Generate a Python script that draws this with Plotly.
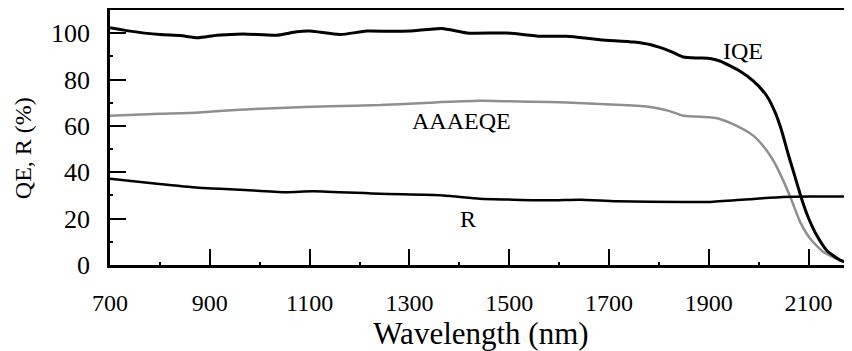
import plotly.graph_objects as go

# IQE (black, thick)
iqe_wl = [700, 733, 800, 840, 876, 914, 967, 1034, 1074, 1101, 1161, 1214, 1260, 1301, 1365,
          1415, 1495, 1562, 1615, 1682, 1750, 1782, 1822, 1849, 1880, 1902, 1922, 1962, 1989,
          2016, 2033, 2046, 2059, 2073, 2086, 2099, 2116, 2136, 2163, 2187]
iqe_val = [102.3, 101.1, 99.4, 99.0, 98.0, 99.1, 99.7, 99.1, 100.6, 100.9, 99.4, 100.9, 100.8, 100.9, 102.0,
           100.1, 100.1, 98.7, 98.7, 97.2, 96.2, 95.1, 92.3, 89.7, 89.3, 89.1, 88.0, 83.7, 79.4,
           73.0, 65.8, 57.9, 47.9, 37.9, 28.6, 20.7, 12.9, 6.4, 2.1, 0.4]

# AAAEQE (grey)
eqe_wl = [700, 800, 878, 960, 1040, 1140, 1241, 1340, 1441, 1500, 1582, 1649, 1715, 1782,
          1820, 1849, 1902, 1922, 1956, 1989, 2016, 2033, 2049, 2066, 2083, 2103, 2129, 2163, 2187]
eqe_val = [64.4, 65.2, 65.8, 67.0, 67.7, 68.5, 69.0, 70.0, 70.8, 70.6, 70.3, 69.8, 69.1, 68.2,
           66.5, 64.4, 63.7, 63.0, 60.0, 55.8, 49.4, 43.6, 36.5, 27.9, 18.6, 11.4, 5.7, 2.1, 0.7]

# R (black)
r_wl = [700, 794, 878, 960, 1051, 1107, 1241, 1367, 1441, 1508, 1582, 1642, 1715, 1849,
        1902, 1982, 2049, 2103, 2187]
r_val = [37.2, 35.0, 33.3, 32.5, 31.4, 31.8, 30.7, 30.0, 28.6, 28.2, 27.9, 28.2, 27.5, 27.2,
         27.2, 28.4, 29.3, 29.5, 29.5]

labels = ["IQE", "AAAEQE", "R"]
label_x = [1968, 1405, 1418]
label_y = [92.5, 62, 20]

FONT = "Liberation Serif, serif"

fig = go.Figure()
fig.add_trace(go.Scatter(x=eqe_wl, y=eqe_val, mode="lines",
                         line=dict(color="#8f8f8f", width=2.5, shape="spline", smoothing=0.6)))
fig.add_trace(go.Scatter(x=r_wl, y=r_val, mode="lines",
                         line=dict(color="black", width=2.5, shape="spline", smoothing=0.6)))
fig.add_trace(go.Scatter(x=iqe_wl, y=iqe_val, mode="lines",
                         line=dict(color="black", width=3, shape="spline", smoothing=0.6)))

for t, x, y in zip(labels, label_x, label_y):
    fig.add_annotation(x=x, y=y, text=t, showarrow=False,
                       font=dict(family=FONT, size=24, color="black"))

fig.add_annotation(xref="paper", yref="paper", x=-0.117, y=0.459, text="QE, R (%)",
                   textangle=-90, showarrow=False, xanchor="center", yanchor="middle",
                   font=dict(family=FONT, size=24, color="black"))

fig.update_layout(
    width=844, height=343,
    margin=dict(l=102, r=0, t=2, b=86, autoexpand=False),
    paper_bgcolor="white", plot_bgcolor="white",
    showlegend=False,
    font=dict(family=FONT, size=24, color="black"),
    xaxis=dict(range=[700, 2187], tickvals=[700, 900, 1100, 1300, 1500, 1700, 1900, 2100],
               automargin=False,
               ticks="inside", ticklen=16, tickwidth=1.5, tickcolor="black",
               minor=dict(ticks="inside", ticklen=3, tickwidth=1.5, tickcolor="black",
                          tickvals=[800, 1000, 1200, 1400, 1600, 1800, 2000]),
               showline=True, linewidth=2.5, linecolor="black", mirror=True,
               showgrid=False, zeroline=False,
               title=dict(text="Wavelength (nm)", font=dict(family=FONT, size=31), standoff=10),
               tickfont=dict(family=FONT, size=24), ticklabelstandoff=14),
    yaxis=dict(range=[0, 110], tickvals=[0, 20, 40, 60, 80, 100],
               automargin=False,
               ticks="inside", ticklen=16, tickwidth=1.5, tickcolor="black",
               minor=dict(ticks="inside", ticklen=3, tickwidth=1.5, tickcolor="black",
                          tickvals=[10, 30, 50, 70, 90]),
               showline=True, linewidth=2.5, linecolor="black",
               showgrid=False, zeroline=False,
               tickfont=dict(family=FONT, size=26), ticklabelstandoff=12),
)

fig.write_html("out.html")
